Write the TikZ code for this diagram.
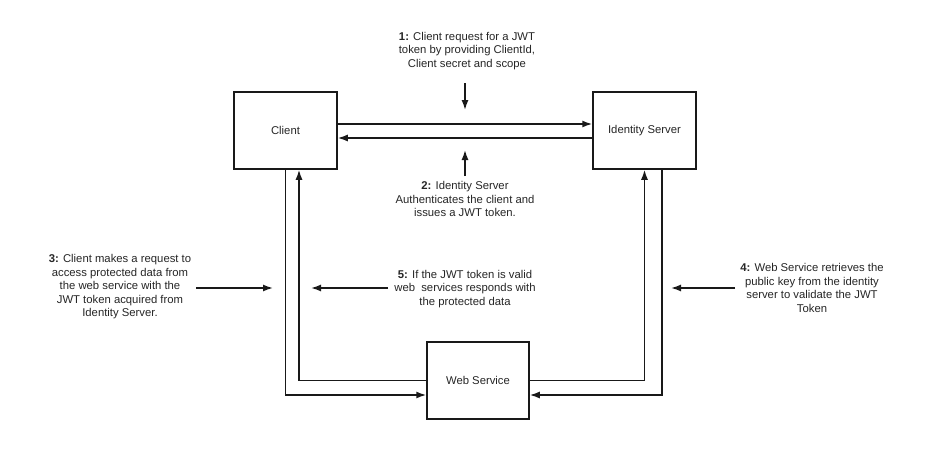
\documentclass[tikz,border=0pt]{standalone}
\usepackage{fontspec}
\setmainfont{Liberation Sans}
\usetikzlibrary{arrows.meta}
\begin{document}
\begin{tikzpicture}[x=1pt,y=-1pt,
  box/.style={draw=black!90,line width=1.5pt,minimum width=103pt,minimum height=77pt,inner sep=0pt,fill=white,font=\fontsize{11.3}{13.5}\selectfont,text=black!85},
  lbl/.style={align=center,font=\fontsize{11.3}{13.5}\selectfont,text=black!85,inner sep=0pt},
  arr/.style={draw=black!90,line width=1.5pt,-{Latex[length=10pt,width=7pt]}},
  ln/.style={draw=black!90,line width=1.5pt}]
\useasboundingbox[fill=white] (0,0) rectangle (933,455);
\node[box] (client) at (285.5,130.5) {Client};
\node[box] (is) at (644.5,130.5) {Identity Server};
\node[box,minimum width=102pt] (ws) at (478,380.5) {Web Service};

\draw[arr] ([yshift=6.5pt]client.east) -- ([yshift=6.5pt]is.west);
\draw[arr] ([yshift=-7.5pt]is.west) -- ([yshift=-7.5pt]client.east);

\draw[arr] (client.south) -- (client.south |- 0,395) -- ([yshift=-14.5pt]ws.west);
\draw[arr] (ws.west) -- ([xshift=13.5pt]client.south |- ws.west) -- ([xshift=13.5pt]client.south);
\draw[arr] (ws.east) -- (is.south |- ws.east) -- (is.south);
\draw[arr] ([xshift=17.5pt]is.south) -- ([xshift=17.5pt]is.south |- 0,395) -- ([yshift=-14.5pt]ws.east);

\node[lbl] (t1) at (467,51) {\textbf{1:} Client request for a JWT\\token by providing ClientId,\\Client secret and scope};
\coordinate (a1s) at (465,83);
\coordinate (a1e) at (465,110);
\draw[arr] (a1s) -- (a1e);

\node[lbl] (t2) at (465,199) {\textbf{2:} Identity Server\\Authenticates the client and\\issues a JWT token.};
\coordinate (a2s) at (465,176);
\coordinate (a2e) at (465,150);
\draw[arr] (a2s) -- (a2e);

\node[lbl] (t3) at (120,287) {\textbf{3:} Client makes a request to\\access protected data from\\the web service with the\\JWT token acquired from\\Identity Server.};
\coordinate (a3s) at (196,288);
\coordinate (a3e) at (273,288);
\draw[arr] (a3s) -- (a3e);

\node[lbl] (t5) at (465,289) {\textbf{5:} If the JWT token is valid\\web\ \ services responds with\\the protected data};
\coordinate (a5s) at (388,288);
\coordinate (a5e) at (311,288);
\draw[arr] (a5s) -- (a5e);

\node[lbl] (t4) at (812,288) {\textbf{4:} Web Service retrieves the\\public key from the identity\\server to validate the JWT\\Token};
\coordinate (a4s) at (735,288);
\coordinate (a4e) at (671,288);
\draw[arr] (a4s) -- (a4e);
\end{tikzpicture}
\end{document}
